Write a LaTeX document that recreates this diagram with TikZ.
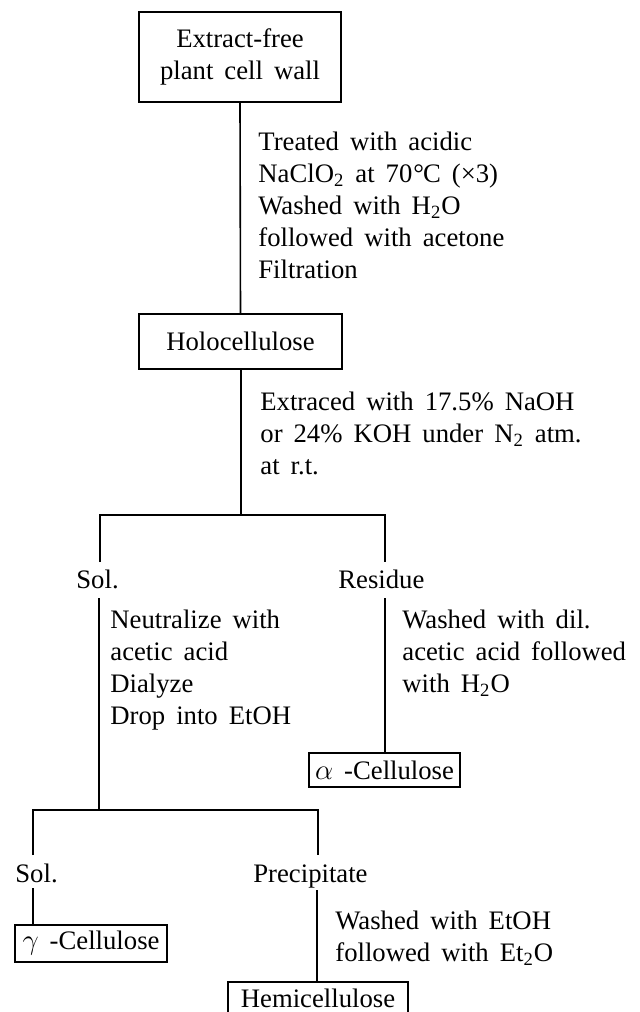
\documentclass[tikz,border=0pt]{standalone}
\usepackage{fontspec}
\setmainfont{Liberation Serif}[WordSpace={1.65}]
\begin{document}
\begin{tikzpicture}[x=0.5pt,y=-0.5pt,
  every node/.style={inner sep=0pt, font=\fontsize{13.35pt}{16pt}\selectfont},
  box/.style={draw, line width=1pt, align=center},
  txt/.style={anchor=base west},
  conn/.style={line width=0.8pt}]
\useasboundingbox (0,0) rectangle (640,1012);
\clip (0,0) rectangle (640,1012);
\fill[white] (0,0) rectangle (640,1012);

% boxes
\node[box, minimum width=101pt, minimum height=45pt] (b1) at (240,57) {Extract-free\\plant cell wall};
\node[box, minimum width=101.5pt, minimum height=27.5pt] (b2) at (240.5,341.5) {Holocellulose};
\node[box, minimum width=75.5pt, minimum height=17pt] (alpha) at (384.5,770) {$\alpha$ -Cellulose};
\node[box, minimum width=76pt, minimum height=18.5pt] (gamma) at (91,943.5) {$\gamma$ -Cellulose};
\node[box, minimum width=90pt, minimum height=16pt] (hemi) at (318,998) {Hemicellulose};

% step texts
\node[txt] (s1a) at (258,150) {Treated with acidic};
\node[txt] (s1b) at (258,182) {NaClO\textsubscript{2} at 70\kern0.5pt°\kern-0.5pt C (×3)};
\node[txt] (s1c) at (258,214) {Washed with H\textsubscript{2}O};
\node[txt] (s1d) at (258,246) {followed with acetone};
\node[txt] (s1e) at (258,278) {Filtration};

\node[txt] (s2a) at (260,410) {Extraced with 17.5\% NaOH};
\node[txt] (s2b) at (260,442) {or 24\% KOH under N\textsubscript{2} atm.};
\node[txt] (s2c) at (260,474) {at r.t.};

\node[txt] (sol1) at (76,588) {Sol.};
\node[txt] (res) at (338,588) {Residue};

\node[txt] (s3a) at (110,628) {Neutralize with};
\node[txt] (s3b) at (110,660) {acetic acid};
\node[txt] (s3c) at (110,692) {Dialyze};
\node[txt] (s3d) at (110,724) {Drop into EtOH};

\node[txt] (s4a) at (402,628) {Washed with dil.};
\node[txt] (s4b) at (402,660) {acetic acid followed};
\node[txt] (s4c) at (402,692) {with H\textsubscript{2}O};

\node[txt] (sol2) at (15,882) {Sol.};
\node[txt] (prec) at (253,882) {Precipitate};

\node[txt] (s5a) at (335,929) {Washed with EtOH};
\node[txt] (s5b) at (335,961) {followed with Et\textsubscript{2}O};

% connectors
\coordinate (j1) at (241,515);
\coordinate (a1) at (100,562);
\coordinate (a2) at (385,562);
\coordinate (c1) at (99,598);
\coordinate (j2) at (99,810);
\coordinate (c2) at (385,598);
\coordinate (d1) at (33,855);
\coordinate (d2) at (318,855);
\coordinate (e1) at (33,888);
\coordinate (e2) at (317,890);

\draw[conn] (b1.south) -- (b2.north);
\draw[conn] (b2.south -| j1) -- (j1);
\draw[conn] (a1) |- (j1) -| (a2);
\draw[conn] (c1) -- (j2);
\draw[conn] (c2) -- (c2 |- alpha.north);
\draw[conn] (d1) |- (j2) -| (d2);
\draw[conn] (e1) -- (e1 |- gamma.north);
\draw[conn] (e2) -- (e2 |- hemi.north);
\end{tikzpicture}
\end{document}
